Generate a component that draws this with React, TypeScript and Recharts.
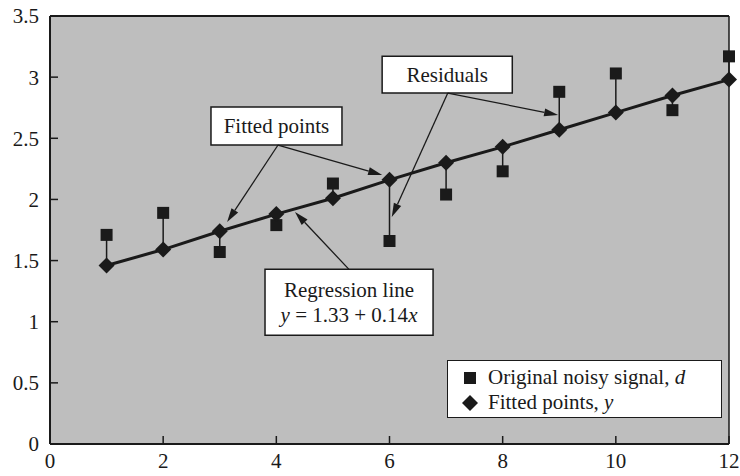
import {
  ComposedChart,
  Line,
  XAxis,
  YAxis,
  CartesianGrid,
  ReferenceLine,
  ReferenceArea,
  Legend,
} from "recharts";

// sample index and readings taken off the figure
const xs = [1, 2, 3, 4, 5, 6, 7, 8, 9, 10, 11, 12];
const noisy = [1.71, 1.89, 1.57, 1.79, 2.13, 1.66, 2.04, 2.23, 2.88, 3.03, 2.73, 3.17];
const fitted = [1.46, 1.59, 1.74, 1.88, 2.01, 2.16, 2.3, 2.43, 2.57, 2.71, 2.85, 2.98];

const xTicks = [0, 2, 4, 6, 8, 10, 12];
const yTicks = [0, 0.5, 1, 1.5, 2, 2.5, 3, 3.5];

// callout boxes in data units: [x1, x2, y1, y2]
const fittedBox = [2.845, 5.16, 2.445, 2.756];
const residualBox = [5.87, 8.17, 2.87, 3.17];
const regressionBox = [3.8, 6.77, 0.89, 1.43];

// arrows in data units: [fromX, fromY, toX, toY]
const arrows = [
  [4.03, 2.445, 3.13, 1.815],
  [4.03, 2.445, 5.87, 2.2],
  [7.03, 2.87, 8.98, 2.69],
  [7.03, 2.87, 6.04, 1.856],
  [5.28, 1.43, 4.33, 1.897],
];

const INK = "#1a1a1a";
const FONT = "Liberation Serif";

const data = xs.map((x, i) => ({ x, d: noisy[i], y: fitted[i] }));

const Diamond = ({ cx, cy, r = 8 }: any) => (
  <polygon
    points={`${cx},${cy - r} ${cx + r},${cy} ${cx},${cy + r} ${cx - r},${cy}`}
    fill={INK}
  />
);

const Square = ({ cx, cy, s = 12 }: any) => (
  <rect x={cx - s / 2} y={cy - s / 2} width={s} height={s} fill={INK} />
);

const Arrow = (p: any) => {
  const { x1, y1, x2, y2 } = p;
  const dx = x2 - x1;
  const dy = y2 - y1;
  const len = Math.sqrt(dx * dx + dy * dy) || 1;
  const ux = dx / len;
  const uy = dy / len;
  const hl = 14;
  const hw = 4;
  const bx = x2 - ux * hl;
  const by = y2 - uy * hl;
  return (
    <g>
      <line x1={x1} y1={y1} x2={bx} y2={by} stroke={INK} strokeWidth={1.3} />
      <polygon
        points={`${x2},${y2} ${bx - uy * hw},${by + ux * hw} ${bx + uy * hw},${by - ux * hw}`}
        fill={INK}
      />
    </g>
  );
};

const boxLabel = (lines: any[]) => (props: any) => {
  const { x, y, width, height } = props.viewBox;
  const cx = x + width / 2;
  const lh = 25;
  const top = y + height / 2 - ((lines.length - 1) * lh) / 2;
  return (
    <g>
      {lines.map((ln, i) => (
        <text
          key={i}
          x={cx}
          y={top + i * lh}
          textAnchor="middle"
          dominantBaseline="central"
          style={{ fontFamily: FONT, fontSize: 21 }}
          fill={INK}
        >
          {ln}
        </text>
      ))}
    </g>
  );
};

const renderLegend = () => (
  <div
    style={{
      width: 275,
      height: 58,
      boxSizing: "border-box",
      border: `1.5px solid ${INK}`,
      background: "#fff",
      fontFamily: FONT,
      fontSize: 21,
      color: INK,
      paddingTop: 4,
      paddingLeft: 12,
      whiteSpace: "nowrap",
    }}
  >
    <div style={{ display: "flex", alignItems: "center", height: 25 }}>
      <svg width={20} height={20} style={{ marginRight: 8 }}>
        <Square cx={10} cy={10} s={12} />
      </svg>
      <span>
        Original noisy signal, <i>d</i>
      </span>
    </div>
    <div style={{ display: "flex", alignItems: "center", height: 25 }}>
      <svg width={20} height={20} style={{ marginRight: 8 }}>
        <Diamond cx={10} cy={10} r={8} />
      </svg>
      <span>
        Fitted points, <i>y</i>
      </span>
    </div>
  </div>
);

const tickStyle = { fontSize: 21, fill: INK, fontFamily: FONT };

export default function App() {
  return (
    <div
      style={{
        position: "absolute",
        left: 0,
        top: 0,
        background: "#fff",
        fontFamily: FONT,
      }}
    >
      <ComposedChart
        width={740}
        height={476}
        data={data}
        margin={{ top: 16, right: 11, left: 0, bottom: 0 }}
        style={{ fontFamily: FONT }}
      >
        <CartesianGrid fill="#bebebe" stroke="none" />
        <XAxis
          dataKey="x"
          type="number"
          domain={[0, 12]}
          ticks={xTicks}
          height={32}
          tick={tickStyle}
          tickSize={-8}
          tickMargin={17}
          axisLine={{ stroke: INK, strokeWidth: 2 }}
          tickLine={{ stroke: INK, strokeWidth: 1.5 }}
        />
        <YAxis
          type="number"
          domain={[0, 3.5]}
          ticks={yTicks}
          width={50}
          tick={tickStyle}
          tickSize={-8}
          tickMargin={19}
          tickFormatter={(v) => String(v)}
          axisLine={{ stroke: INK, strokeWidth: 2 }}
          tickLine={{ stroke: INK, strokeWidth: 1.5 }}
        />
        <ReferenceLine y={3.5} stroke={INK} strokeWidth={2} />
        <ReferenceLine x={12} stroke={INK} strokeWidth={1.5} />
        {xs.map((x, i) => (
          <ReferenceLine
            key={`r${x}`}
            segment={[
              { x, y: noisy[i] },
              { x, y: fitted[i] },
            ]}
            stroke={INK}
            strokeWidth={1.5}
          />
        ))}
        {arrows.map((a, i) => (
          <ReferenceLine
            key={`a${i}`}
            segment={[
              { x: a[0], y: a[1] },
              { x: a[2], y: a[3] },
            ]}
            shape={Arrow}
          />
        ))}
        <ReferenceArea
          x1={fittedBox[0]}
          x2={fittedBox[1]}
          y1={fittedBox[2]}
          y2={fittedBox[3]}
          fill="#fff"
          fillOpacity={1}
          stroke={INK}
          strokeWidth={1.5}
          label={{ content: boxLabel(["Fitted points"]) }}
        />
        <ReferenceArea
          x1={residualBox[0]}
          x2={residualBox[1]}
          y1={residualBox[2]}
          y2={residualBox[3]}
          fill="#fff"
          fillOpacity={1}
          stroke={INK}
          strokeWidth={1.5}
          label={{ content: boxLabel(["Residuals"]) }}
        />
        <ReferenceArea
          x1={regressionBox[0]}
          x2={regressionBox[1]}
          y1={regressionBox[2]}
          y2={regressionBox[3]}
          fill="#fff"
          fillOpacity={1}
          stroke={INK}
          strokeWidth={1.5}
          label={{
            content: boxLabel([
              "Regression line",
              <>
                <tspan fontStyle="italic">y</tspan> = 1.33 + 0.14
                <tspan fontStyle="italic">x</tspan>
              </>,
            ]),
          }}
        />
        <Line
          dataKey="d"
          stroke="none"
          isAnimationActive={false}
          dot={(p: any) => <Square key={`s${p.index}`} cx={p.cx} cy={p.cy} />}
          activeDot={false}
        />
        <Line
          dataKey="y"
          type="linear"
          stroke={INK}
          strokeWidth={3}
          isAnimationActive={false}
          dot={(p: any) => <Diamond key={`d${p.index}`} cx={p.cx} cy={p.cy} />}
          activeDot={false}
        />
        <Legend
          layout="horizontal"
          verticalAlign="middle"
          align="center"
          content={renderLegend}
          wrapperStyle={{ left: 447, top: 360, width: 275, height: 58 }}
        />
      </ComposedChart>
    </div>
  );
}
